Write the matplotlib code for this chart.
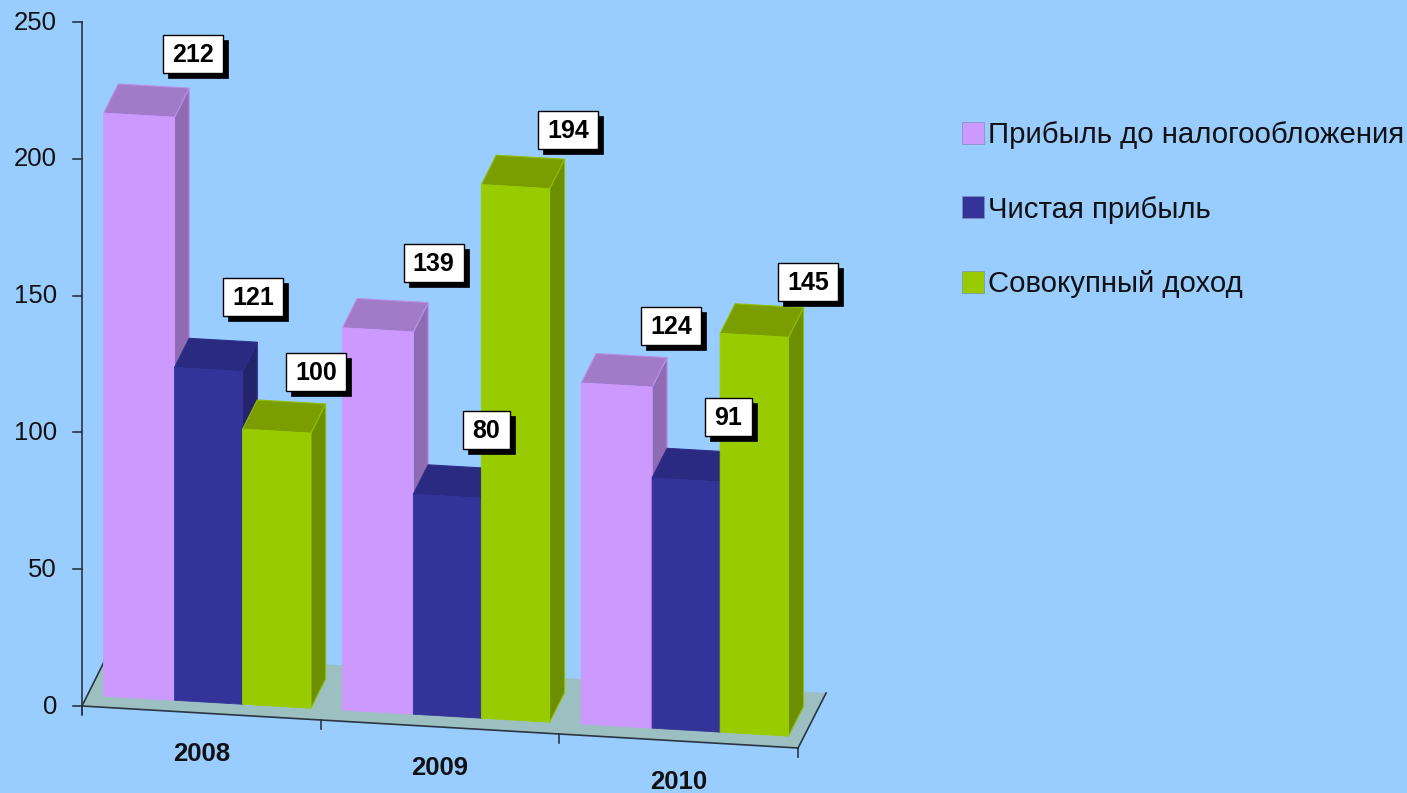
import matplotlib
matplotlib.use('Agg')
import matplotlib.pyplot as plt
from matplotlib.patches import Polygon, Rectangle, Patch

plt.rcParams['font.family'] = ['Liberation Sans', 'DejaVu Sans']

years = ['2008', '2009', '2010']
series_names = ['Прибыль до налогообложения', 'Чистая прибыль', 'Совокупный доход']
profit_before_tax = [212, 139, 124]
net_profit = [121, 80, 91]
total_income = [100, 194, 145]
y_ticks = [0, 50, 100, 150, 200, 250]

# front, top, side shades per series
front_colors = ['#CC99FF', '#333399', '#99CC00']
top_colors = ['#A17AC8', '#2A2A80', '#7A9E00']
side_colors = ['#8F6BB3', '#24246B', '#6B8F00']
edge_colors = ['#B98FEA', '#2E2E8C', '#8FBF00']

# nudges of the value labels from the back of each bar top, per series and year
label_nudge = [[(39, -32), (41, -37.5), (39.4, -29.5)],
               [(30, -43), (24, -36.7), (27, -33)],
               [(24.5, -30), (37.6, -27), (38.6, -23.6)]]

AXIS_SCALE = 2.736
BAR_SCALE = 2.75
BAR_WIDTHS = [0.297, 0.285, 0.286]
GAP = 0.068
D_FRONT = 0.2
D_BACK = 0.74


def project(u, d, v, scale=BAR_SCALE):
    # u: category position, d: depth 0..1, v: value -> picture coordinates
    x = 82 + 238.7 * u + d * (27 + 0.33 * u)
    y = 706 + 14 * u - d * (54 + 0.33 * u) - scale * v
    return x, y


fig = plt.figure(figsize=(14.07, 7.93), dpi=100, facecolor='#99CCFF')
ax = fig.add_axes([0, 0, 1, 1])
ax.set_xlim(0, 1407)
ax.set_ylim(793, 0)
ax.axis('off')

# floor
n = len(years)
floor = [project(0, 0, 0), project(n, 0, 0), project(n, 1, 0), project(0, 1, 0)]
ax.add_patch(Polygon(floor, closed=True, fc='#9CBFC2', ec='none', zorder=1))
for a, b in [(floor[0], floor[1]), (floor[1], floor[2]), (floor[0], floor[3])]:
    ax.plot([a[0], b[0]], [a[1], b[1]], color='#2B3540', lw=1.2, zorder=2)

# value axis
x0, y0 = project(0, 0, 0)
ax.plot([x0, x0], [y0 + 8, y0 - AXIS_SCALE * y_ticks[-1]], color='#2B3540', lw=1.2, zorder=2)
for t in y_ticks:
    y = y0 - AXIS_SCALE * t
    ax.plot([x0 - 9, x0], [y, y], color='#2B3540', lw=1.2, zorder=2)
    ax.text(x0 - 25, y + 0.5, str(t), ha='right', va='center', fontsize=18.5, color='#111111')

# category axis
for g in range(n + 1):
    x, y = project(g, 0, 0)
    ax.plot([x, x], [y, y + 9], color='#2B3540', lw=1.2, zorder=2)
for g, year in enumerate(years):
    x, y = project(g + 0.5, 0, 0)
    ax.text(x, y + 41, year, ha='center', va='center', fontsize=18.5, fontweight='bold', color='#111111')

# bars, left to right so later ones cover earlier ones
all_series = [profit_before_tax, net_profit, total_income]
z = 3
for g in range(n):
    u1 = g + GAP
    for s, values in enumerate(all_series):
        v = values[g]
        u2 = u1 + BAR_WIDTHS[s]
        side = [project(u2, D_FRONT, 0), project(u2, D_BACK, 0), project(u2, D_BACK, v), project(u2, D_FRONT, v)]
        top = [project(u1, D_FRONT, v), project(u2, D_FRONT, v), project(u2, D_BACK, v), project(u1, D_BACK, v)]
        front = [project(u1, D_FRONT, 0), project(u2, D_FRONT, 0), project(u2, D_FRONT, v), project(u1, D_FRONT, v)]
        ax.add_patch(Polygon(side, closed=True, fc=side_colors[s], ec=edge_colors[s], lw=0.8, zorder=z))
        ax.add_patch(Polygon(top, closed=True, fc=top_colors[s], ec=edge_colors[s], lw=0.8, zorder=z))
        ax.add_patch(Polygon(front, closed=True, fc=front_colors[s], ec=front_colors[s], lw=0.6, zorder=z))
        z += 1

        # value label with hard shadow
        ax_x, ax_y = project((u1 + u2) / 2, D_BACK, v)
        cx = ax_x + label_nudge[s][g][0]
        cy = ax_y + label_nudge[s][g][1]
        w = 60 if v >= 100 else 47
        h = 38
        ax.add_patch(Rectangle((cx - w / 2 + 5, cy - h / 2 + 5), w, h, fc='black', ec='black', lw=0.5, zorder=50))
        ax.add_patch(Rectangle((cx - w / 2, cy - h / 2), w, h, fc='white', ec='black', lw=1.0, zorder=51))
        ax.text(cx, cy + 1, str(v), ha='center', va='center', fontsize=18, fontweight='bold', color='black', zorder=52)
        u1 = u2

handles = [Patch(fc=c, ec='#7F8FB0', lw=0.5) for c in front_colors]
ax.legend(handles, series_names, loc='upper left', bbox_to_anchor=(962, 121), bbox_transform=ax.transData,
          frameon=False, fontsize=21.2, labelspacing=1.58, handlelength=0.75, handleheight=0.75,
          handletextpad=0.12, borderaxespad=0, borderpad=0, labelcolor='#111111')

fig.savefig('out.png', dpi=100, facecolor=fig.get_facecolor())
